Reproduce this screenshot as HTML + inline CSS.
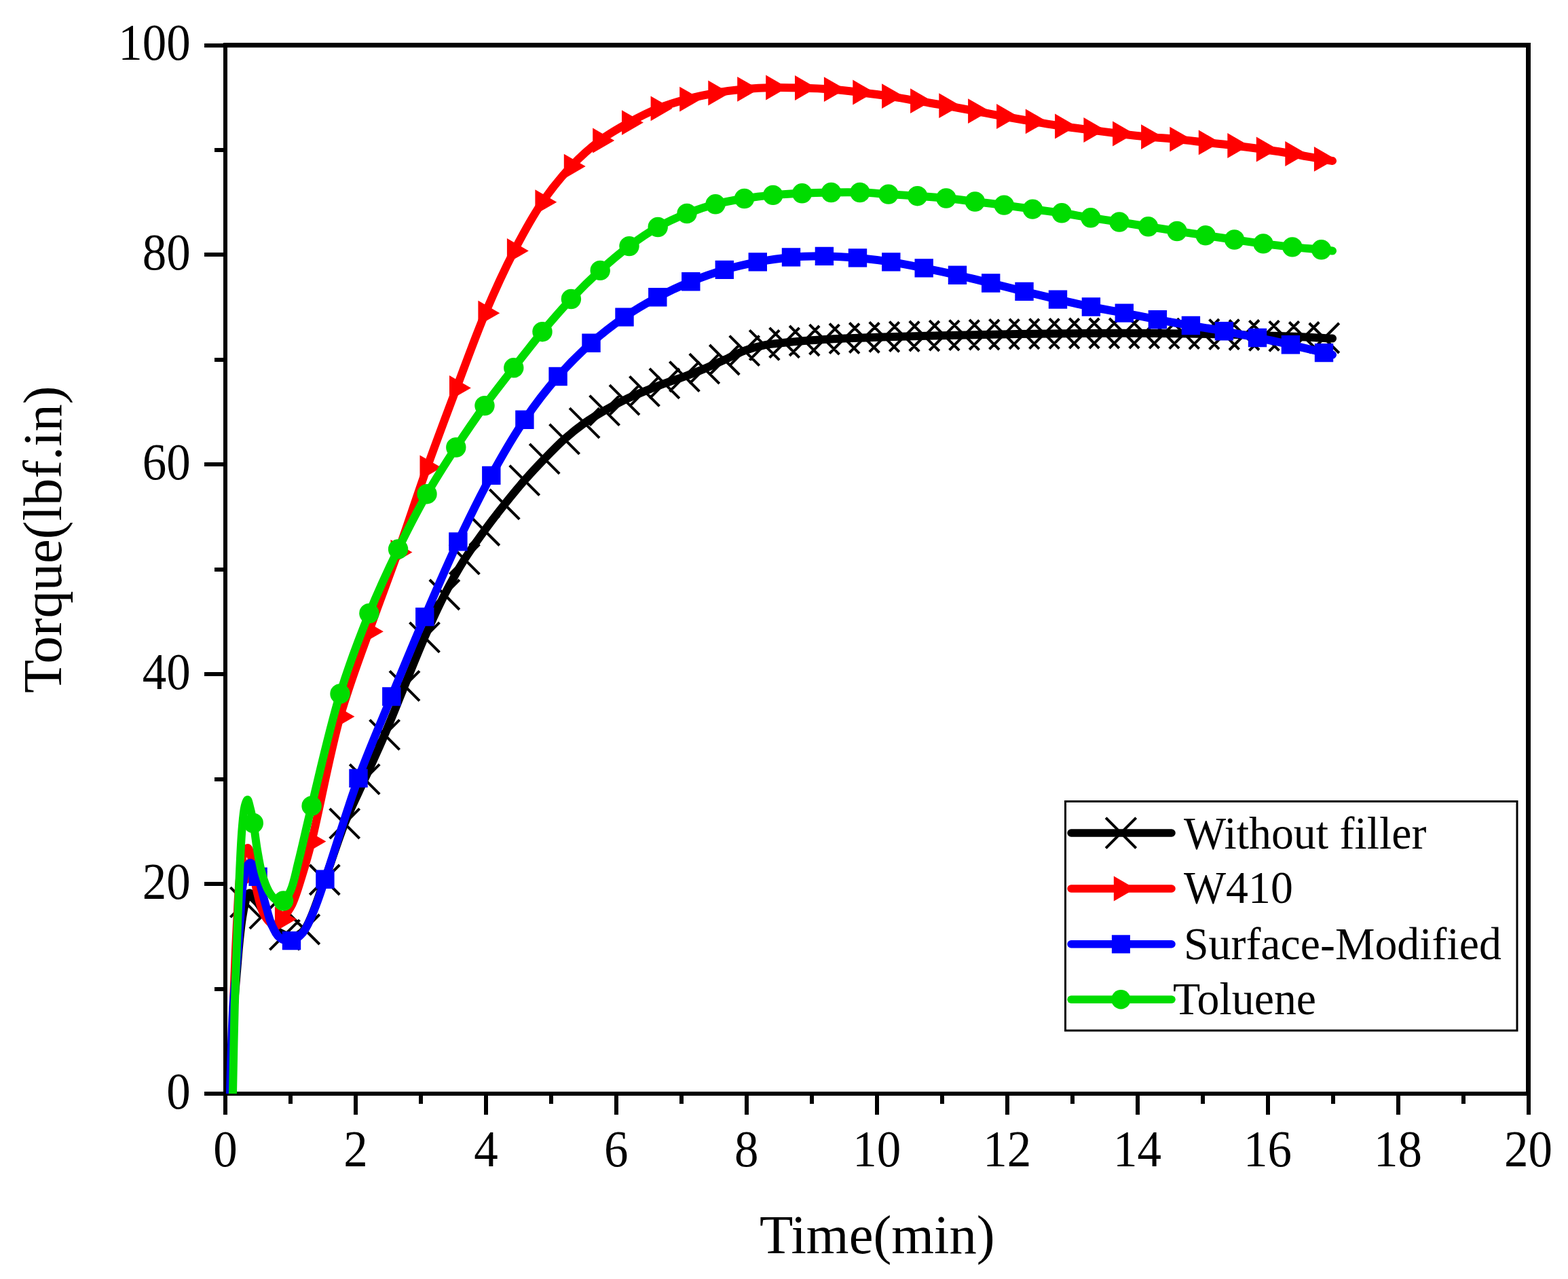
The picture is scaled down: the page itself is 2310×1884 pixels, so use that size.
<!DOCTYPE html>
<html><head><meta charset="utf-8"><title>Torque vs Time</title>
<style>html,body{margin:0;padding:0;background:#fff;overflow:hidden}svg{display:block}
text{font-family:"Liberation Serif","Times New Roman",serif;fill:#000;font-variant-ligatures:none;font-kerning:normal}</style></head><body>
<svg width="2310" height="1884" viewBox="0 0 2310 1884">
<rect width="2310" height="1884" fill="#fff"/>
<defs><clipPath id="c"><rect x="332" y="66.5" width="1919.5" height="1544.5"/></clipPath></defs>

<g fill="#000" shape-rendering="crispEdges">
<rect x="329" y="63" width="6" height="1551"/>
<rect x="329" y="1608" width="1926" height="6"/>
<rect x="329" y="63" width="1926" height="7"/>
<rect x="2248" y="63" width="7" height="1551"/>
<rect x="301" y="1608" width="28" height="6"/>
<rect x="316" y="1453.5" width="13" height="6"/>
<rect x="301" y="1299.1" width="28" height="6"/>
<rect x="316" y="1144.7" width="13" height="6"/>
<rect x="301" y="990.2" width="28" height="6"/>
<rect x="316" y="835.8" width="13" height="6"/>
<rect x="301" y="681.3" width="28" height="6"/>
<rect x="316" y="526.8" width="13" height="6"/>
<rect x="301" y="372.4" width="28" height="6"/>
<rect x="316" y="218" width="13" height="6"/>
<rect x="301" y="63.5" width="28" height="6"/>
<rect x="329" y="1614" width="6" height="28"/>
<rect x="425" y="1614" width="6" height="12"/>
<rect x="521" y="1614" width="6" height="28"/>
<rect x="616.9" y="1614" width="6" height="12"/>
<rect x="712.9" y="1614" width="6" height="28"/>
<rect x="808.9" y="1614" width="6" height="12"/>
<rect x="904.8" y="1614" width="6" height="28"/>
<rect x="1000.8" y="1614" width="6" height="12"/>
<rect x="1096.8" y="1614" width="6" height="28"/>
<rect x="1192.8" y="1614" width="6" height="12"/>
<rect x="1288.8" y="1614" width="6" height="28"/>
<rect x="1384.7" y="1614" width="6" height="12"/>
<rect x="1480.7" y="1614" width="6" height="28"/>
<rect x="1576.7" y="1614" width="6" height="12"/>
<rect x="1672.6" y="1614" width="6" height="28"/>
<rect x="1768.6" y="1614" width="6" height="12"/>
<rect x="1864.6" y="1614" width="6" height="28"/>
<rect x="1960.6" y="1614" width="6" height="12"/>
<rect x="2056.6" y="1614" width="6" height="28"/>
<rect x="2152.5" y="1614" width="6" height="12"/>
<rect x="2248.5" y="1614" width="6" height="28"/>
</g>
<g font-size="71">
<text transform="translate(280.7,1632.6) scale(1,1.07)" text-anchor="end">0</text>
<text transform="translate(280.7,1323.7) scale(1,1.07)" text-anchor="end">20</text>
<text transform="translate(280.7,1014.8) scale(1,1.07)" text-anchor="end">40</text>
<text transform="translate(280.7,705.9) scale(1,1.07)" text-anchor="end">60</text>
<text transform="translate(280.7,397) scale(1,1.07)" text-anchor="end">80</text>
<text transform="translate(280.7,88.1) scale(1,1.07)" text-anchor="end">100</text>
<text transform="translate(332,1718) scale(1,1.07)" text-anchor="middle">0</text>
<text transform="translate(524,1718) scale(1,1.07)" text-anchor="middle">2</text>
<text transform="translate(715.9,1718) scale(1,1.07)" text-anchor="middle">4</text>
<text transform="translate(907.8,1718) scale(1,1.07)" text-anchor="middle">6</text>
<text transform="translate(1099.8,1718) scale(1,1.07)" text-anchor="middle">8</text>
<text transform="translate(1291.8,1718) scale(1,1.07)" text-anchor="middle">10</text>
<text transform="translate(1483.7,1718) scale(1,1.07)" text-anchor="middle">12</text>
<text transform="translate(1675.6,1718) scale(1,1.07)" text-anchor="middle">14</text>
<text transform="translate(1867.6,1718) scale(1,1.07)" text-anchor="middle">16</text>
<text transform="translate(2059.6,1718) scale(1,1.07)" text-anchor="middle">18</text>
<text transform="translate(2251.5,1718) scale(1,1.07)" text-anchor="middle">20</text>
</g>
<text x="1119" y="1846.4" font-size="80.7">Time(min)</text>
<text transform="translate(90,1021) rotate(-90)" font-size="80.5">Torque(lbf.in)</text>
<g clip-path="url(#c)" fill="none" stroke-linecap="round" stroke-linejoin="round">
<path d="M339.5,1640C339.7,1630.3 339.7,1622.8 340,1611C340.4,1592.5 341.1,1562.7 342,1540C342.8,1519.2 343.7,1499.6 345,1480C346.2,1461.3 348.1,1441.9 349.5,1425C350.7,1410.6 351.7,1397.7 353,1385C354.2,1373.5 355.4,1362 357,1352C358.3,1343.7 359.9,1335.4 361.4,1329.2C362.4,1324.8 362.9,1320.3 364.5,1318C365.5,1316.6 366.8,1315.4 368,1315.5C369.6,1315.6 371,1317.7 373,1320C377.2,1324.9 384.4,1337.5 389.9,1345.8C395,1353.5 399.4,1362.6 405,1368C409.4,1372.3 414.3,1375.3 419.4,1377.1C424.3,1378.9 430.2,1380.2 435,1379C440,1377.7 444.2,1374.9 448.8,1369C458.7,1356.4 468.7,1321.2 478.3,1296C488.4,1269.4 497.3,1239 507.7,1213.2C517.1,1189.9 527.4,1169.7 537.2,1147.9C547,1126.1 557,1104.8 566.6,1082.3C576.6,1058.9 586.2,1034.2 596,1010.3C605.8,986.4 615.4,961.7 625.5,938.8C635.1,917.1 644.7,895.8 654.9,876C664.4,857.6 674.2,840.1 684.4,823.8C693.9,808.7 703.8,795.2 713.8,781.5C723.5,768.2 733.3,755.4 743.3,742.9C753,730.8 762.7,718.9 772.7,707.6C782.4,696.6 792.3,686 802.2,675.8C811.9,665.8 821.6,655.7 831.6,646.8C841.2,638.3 851.1,630.3 861.1,623.2C870.7,616.4 880.7,610.4 890.6,604.7C900.3,599.1 910.1,593.9 920,589.1C929.7,584.4 939.6,580.4 949.5,576.4C959.3,572.4 969.1,568.5 978.9,564.9C988.7,561.3 998.6,558.2 1008.4,554.6C1018.2,551 1028,547.2 1037.8,543.1C1047.7,539 1057.5,534.4 1067.3,530C1077.1,525.6 1086.7,520.2 1096.7,516.6C1106.4,513.1 1116.3,510.3 1126.2,508.3C1135.9,506.4 1145.8,505.8 1155.6,504.8C1165.4,503.7 1175.3,502.8 1185.1,502C1194.9,501.2 1204.7,500.7 1214.5,500.1C1224.3,499.5 1232.6,499.1 1244,498.6C1259.7,497.9 1278.6,497.2 1300,496.5C1328.5,495.6 1366.7,494.8 1400,494C1433.3,493.3 1466.7,492.5 1500,492C1533.3,491.5 1566.7,491.2 1600,491C1633.3,490.8 1666.7,490.8 1700,491C1733.3,491.2 1766.7,491.8 1800,492.5C1833.3,493.3 1870.5,494.3 1900,495.5C1923.4,496.4 1942,497.6 1963,498.6" stroke="#000" stroke-width="12"/>
<path d="M339.4,1307.2L383.4,1351.2M339.4,1351.2L383.4,1307.2M367.9,1323.8L411.9,1367.8M367.9,1367.8L411.9,1323.8M397.4,1355.1L441.4,1399.1M397.4,1399.1L441.4,1355.1M426.8,1347L470.8,1391M426.8,1391L470.8,1347M456.3,1274L500.3,1318M456.3,1318L500.3,1274M485.7,1191.2L529.7,1235.2M485.7,1235.2L529.7,1191.2M515.2,1125.9L559.2,1169.9M515.2,1169.9L559.2,1125.9M544.6,1060.3L588.6,1104.3M544.6,1104.3L588.6,1060.3M574,988.3L618,1032.3M574,1032.3L618,988.3M603.5,916.8L647.5,960.8M603.5,960.8L647.5,916.8M632.9,854L676.9,898M632.9,898L676.9,854M662.4,801.8L706.4,845.8M662.4,845.8L706.4,801.8M691.8,759.5L735.8,803.5M691.8,803.5L735.8,759.5M721.3,720.9L765.3,764.9M721.3,764.9L765.3,720.9M750.7,685.6L794.7,729.6M750.7,729.6L794.7,685.6M780.2,653.8L824.2,697.8M780.2,697.8L824.2,653.8M809.6,624.8L853.6,668.8M809.6,668.8L853.6,624.8M839.1,601.2L883.1,645.2M839.1,645.2L883.1,601.2M868.6,582.7L912.6,626.7M868.6,626.7L912.6,582.7M898,567.1L942,611.1M898,611.1L942,567.1M927.5,554.4L971.5,598.4M927.5,598.4L971.5,554.4M956.9,542.9L1000.9,586.9M956.9,586.9L1000.9,542.9M986.4,532.6L1030.4,576.6M986.4,576.6L1030.4,532.6M1015.8,521.1L1059.8,565.1M1015.8,565.1L1059.8,521.1M1045.3,508L1089.3,552M1045.3,552L1089.3,508M1074.7,494.6L1118.7,538.6M1074.7,538.6L1118.7,494.6M1104.2,486.3L1148.2,530.3M1104.2,530.3L1148.2,486.3M1133.6,482.8L1177.6,526.8M1133.6,526.8L1177.6,482.8M1163.1,480L1207.1,524M1163.1,524L1207.1,480M1192.5,478.1L1236.5,522.1M1192.5,522.1L1236.5,478.1M1222,476.6L1266,520.6M1222,520.6L1266,476.6M1251.4,475.5L1295.4,519.5M1251.4,519.5L1295.4,475.5M1280.8,474.4L1324.8,518.4M1280.8,518.4L1324.8,474.4M1310.3,473.7L1354.3,517.7M1310.3,517.7L1354.3,473.7M1339.8,473L1383.8,517M1339.8,517L1383.8,473M1369.2,472.2L1413.2,516.2M1369.2,516.2L1413.2,472.2M1398.6,471.6L1442.6,515.6M1398.6,515.6L1442.6,471.6M1428.1,471L1472.1,515M1428.1,515L1472.1,471M1457.5,470.4L1501.5,514.4M1457.5,514.4L1501.5,470.4M1487,469.9L1531,513.9M1487,513.9L1531,469.9M1516.5,469.6L1560.5,513.6M1516.5,513.6L1560.5,469.6M1545.9,469.3L1589.9,513.3M1545.9,513.3L1589.9,469.3M1575.3,469L1619.3,513M1575.3,513L1619.3,469M1604.8,469L1648.8,513M1604.8,513L1648.8,469M1634.2,469L1678.2,513M1634.2,513L1678.2,469M1663.7,469L1707.7,513M1663.7,513L1707.7,469M1693.1,469.2L1737.1,513.2M1693.1,513.2L1737.1,469.2M1722.6,469.7L1766.6,513.7M1722.6,513.7L1766.6,469.7M1752,470.1L1796,514.1M1752,514.1L1796,470.1M1781.5,470.6L1825.5,514.6M1781.5,514.6L1825.5,470.6M1811,471.5L1855,515.5M1811,515.5L1855,471.5M1840.4,472.4L1884.4,516.4M1840.4,516.4L1884.4,472.4M1869.8,473.3L1913.8,517.3M1869.8,517.3L1913.8,473.3M1899.3,474.5L1943.3,518.5M1899.3,518.5L1943.3,474.5M1928.8,476L1972.8,520M1928.8,520L1972.8,476" stroke="#000" stroke-width="4" stroke-linecap="butt"/>
<path d="M341.5,1640C341.7,1630.3 341.8,1624 342,1611C342.4,1584.5 342.8,1519.4 343.5,1490C343.9,1473.1 344.5,1464.1 345,1450C345.6,1434.3 346.3,1416.7 347,1400C347.8,1383.3 348.6,1366.7 349.5,1350C350.4,1333.3 351,1315.5 352.5,1300C353.8,1286.4 354.4,1271.1 357.5,1262C359.4,1256.3 362.9,1248.9 365,1249C366.8,1249.1 368.3,1255.5 369.5,1260C371.2,1266.4 371.6,1275.5 373,1284C374.6,1293.7 376.6,1305 379,1315C381.3,1324.6 383.5,1335.3 387,1343C389.8,1349 393.1,1354.8 397,1358C400,1360.4 404,1362.6 407,1362C410.2,1361.4 412.5,1357.5 415.5,1354C419.9,1348.8 425.6,1341.6 430,1333C435.8,1321.5 440.3,1305 445,1290C450,1273.9 453.5,1261.7 459.1,1239.5C469.8,1197.4 485.5,1110.7 501.1,1055.6C514.2,1009.4 529.2,971.2 543.6,930.2C557.5,890.5 572.1,853.1 586.1,813.5C600.6,772.7 614.5,729.7 629.1,688.8C643.3,649 658.1,609.9 672.6,571.4C686.7,534 700.3,496 715,461.2C728.6,429 742.8,397.9 757.5,369.5C770.9,343.8 784.2,319.3 799,297.7C812.4,278.2 826.6,260.7 841.4,245.1C855,230.8 869.2,218 883.9,207C897.7,196.7 912.2,188.6 926.6,180.6C940.6,172.9 954.8,165.6 969.2,159.8C983.2,154.2 997.6,149.9 1011.9,146.1C1025.9,142.4 1039.9,139.5 1054,137C1068.2,134.5 1082.7,132.6 1096.9,131.3C1110.9,130 1124.8,129.3 1138.9,129C1153.1,128.7 1167.4,129.1 1181.7,129.5C1196,129.9 1210.4,130.5 1224.6,131.6C1238.8,132.7 1252.8,134.3 1267,136C1281.2,137.7 1295.6,139.5 1309.8,141.6C1323.9,143.7 1337.8,146.4 1351.8,148.7C1365.8,151.1 1379.9,153.2 1394,155.7C1408.2,158.2 1422.6,161 1436.8,163.6C1450.9,166.2 1464.7,169 1478.8,171.5C1493,174.1 1507.2,176.5 1521.5,178.9C1535.9,181.3 1550.4,183.9 1564.8,186C1579,188.1 1593,189.7 1607.1,191.5C1621.3,193.3 1635.6,195.3 1649.8,197C1663.8,198.7 1677.8,200.3 1691.8,201.6C1705.8,203 1719.9,203.7 1734,205.1C1748.2,206.5 1762.3,208.3 1776.5,209.9C1790.7,211.5 1804.8,212.8 1819,214.5C1833.2,216.2 1847.3,218 1861.5,220C1875.7,222 1889.8,224.1 1904,226.5C1918.2,228.9 1935.7,232.5 1946.6,234.4C1953.3,235.6 1957.5,236.1 1963,237" stroke="#ff0000" stroke-width="12"/>
<path d="M394.3,1284L362.4,1265.6L362.4,1302.4ZM436.8,1354L404.9,1335.6L404.9,1372.4ZM480.4,1239.5L448.5,1221.1L448.5,1257.9ZM522.4,1055.6L490.5,1037.2L490.5,1074ZM564.9,930.2L533,911.8L533,948.6ZM607.4,813.5L575.5,795.1L575.5,831.9ZM650.4,688.8L618.5,670.4L618.5,707.2ZM693.9,571.4L662,553L662,589.8ZM736.3,461.2L704.4,442.8L704.4,479.6ZM778.8,369.5L746.9,351.1L746.9,387.9ZM820.3,297.7L788.4,279.3L788.4,316.1ZM862.7,245.1L830.8,226.7L830.8,263.5ZM905.2,207L873.2,188.6L873.2,225.4ZM947.9,180.6L916,162.2L916,199ZM990.5,159.8L958.6,141.4L958.6,178.2ZM1033.2,146.1L1001.2,127.7L1001.2,164.5ZM1075.3,137L1043.3,118.6L1043.3,155.4ZM1118.2,131.3L1086.2,112.9L1086.2,149.7ZM1160.2,129L1128.2,110.6L1128.2,147.4ZM1203,129.5L1171,111.1L1171,147.9ZM1245.9,131.6L1213.9,113.2L1213.9,150ZM1288.3,136L1256.3,117.6L1256.3,154.4ZM1331.1,141.6L1299.1,123.2L1299.1,160ZM1373.1,148.7L1341.1,130.3L1341.1,167.1ZM1415.3,155.7L1383.3,137.3L1383.3,174.1ZM1458.1,163.6L1426.1,145.2L1426.1,182ZM1500.1,171.5L1468.1,153.1L1468.1,189.9ZM1542.8,178.9L1510.8,160.5L1510.8,197.3ZM1586.1,186L1554.1,167.6L1554.1,204.4ZM1628.4,191.5L1596.4,173.1L1596.4,209.9ZM1671.1,197L1639.1,178.6L1639.1,215.4ZM1713.1,201.6L1681.1,183.2L1681.1,220ZM1755.3,205.1L1723.3,186.7L1723.3,223.5ZM1797.8,209.9L1765.8,191.5L1765.8,228.3ZM1840.3,214.5L1808.3,196.1L1808.3,232.9ZM1882.8,220L1850.8,201.6L1850.8,238.4ZM1925.3,226.5L1893.3,208.1L1893.3,244.9ZM1967.9,234.4L1935.9,216L1935.9,252.8Z" fill="#ff0000" stroke="none"/>
<path d="M338.6,1640C338.7,1630.3 338.7,1624.1 339,1611C339.7,1583.1 341.3,1515.2 343.5,1480C345,1456.1 347.3,1440 349,1420C350.7,1400 352.1,1379.1 353.5,1360C354.8,1342.6 355.4,1323.6 357,1310C358.1,1300.5 359.4,1292.6 361,1286C362.2,1281.3 363.1,1276.5 365,1274C366.2,1272.4 367.8,1270.8 369.2,1271C371.1,1271.2 373.3,1275.1 375,1278C377.1,1281.6 378.3,1285.7 380.1,1291.4C383.2,1300.9 386.9,1317.6 390.5,1330C393.9,1341.7 396.6,1354.7 401,1364C404.4,1371.2 407.8,1378.5 413,1382C417.6,1385.1 424.2,1386.7 429.5,1385.6C435.3,1384.4 441.1,1379.7 446,1374C452.8,1366.2 457.8,1352.3 463,1340C468.8,1326.3 472.3,1314.6 478.9,1295.3C490.9,1260.2 510.8,1193.1 528,1146.4C543.6,1103.9 560.4,1065.8 576.8,1026C593,986.6 609.2,947.1 625.8,908.6C642,871.1 658.1,833.4 674.9,797.9C690.8,764.2 706.9,731.2 723.8,700.4C739.6,671.5 755.7,643.5 772.9,618.3C788.6,595.2 805.1,573.9 822.1,554.5C837.9,536.5 854.2,520.2 871,505.3C886.9,491.2 903.3,478.5 920,467.1C936,456.1 952.3,446.6 968.8,437.8C984.9,429.2 1001.3,421.6 1017.8,414.8C1034.1,408.1 1050.7,402.2 1067.3,397.4C1083.5,392.7 1099.9,389 1116.3,385.9C1132.6,382.8 1149.1,380.3 1165.5,378.9C1181.8,377.5 1198.1,377.2 1214.4,377.4C1230.8,377.6 1247.1,378.5 1263.5,379.9C1279.9,381.3 1296.5,383.4 1312.8,385.9C1329,388.4 1345,391.7 1361.2,394.9C1377.6,398.1 1394.1,401.6 1410.5,405.3C1426.9,409 1443.3,413 1459.7,417C1476.1,421 1492.5,425.4 1509,429.4C1525.5,433.4 1542,437.3 1558.5,441.1C1574.8,444.9 1591.1,448.7 1607.4,452C1623.7,455.3 1640,458 1656.3,461.1C1672.7,464.2 1689,467.7 1705.4,470.8C1721.7,473.9 1738.1,476.7 1754.4,479.5C1770.7,482.3 1787.1,484.8 1803.4,487.8C1819.8,490.8 1836.2,494.2 1852.5,497.5C1868.8,500.8 1885.1,504.1 1901.4,507.8C1917.8,511.5 1939.5,517 1950.5,519.6C1956,520.9 1958.8,521.6 1963,522.6" stroke="#0000ff" stroke-width="12"/>
<path d="M366.4,1277.7h27.4v27.4h-27.4ZM415.8,1371.9h27.4v27.4h-27.4ZM465.2,1281.6h27.4v27.4h-27.4ZM514.3,1132.7h27.4v27.4h-27.4ZM563.1,1012.3h27.4v27.4h-27.4ZM612.1,894.9h27.4v27.4h-27.4ZM661.2,784.2h27.4v27.4h-27.4ZM710.1,686.7h27.4v27.4h-27.4ZM759.2,604.6h27.4v27.4h-27.4ZM808.4,540.8h27.4v27.4h-27.4ZM857.3,491.6h27.4v27.4h-27.4ZM906.3,453.4h27.4v27.4h-27.4ZM955.1,424.1h27.4v27.4h-27.4ZM1004.1,401.1h27.4v27.4h-27.4ZM1053.6,383.7h27.4v27.4h-27.4ZM1102.6,372.2h27.4v27.4h-27.4ZM1151.8,365.2h27.4v27.4h-27.4ZM1200.7,363.7h27.4v27.4h-27.4ZM1249.8,366.2h27.4v27.4h-27.4ZM1299.1,372.2h27.4v27.4h-27.4ZM1347.5,381.2h27.4v27.4h-27.4ZM1396.8,391.6h27.4v27.4h-27.4ZM1446,403.3h27.4v27.4h-27.4ZM1495.3,415.7h27.4v27.4h-27.4ZM1544.8,427.4h27.4v27.4h-27.4ZM1593.7,438.3h27.4v27.4h-27.4ZM1642.6,447.4h27.4v27.4h-27.4ZM1691.7,457.1h27.4v27.4h-27.4ZM1740.7,465.8h27.4v27.4h-27.4ZM1789.7,474.1h27.4v27.4h-27.4ZM1838.8,483.8h27.4v27.4h-27.4ZM1887.7,494.1h27.4v27.4h-27.4ZM1936.8,505.9h27.4v27.4h-27.4Z" fill="#0000ff" stroke="none"/>
<path d="M342.5,1640C342.7,1630.3 342.7,1624.1 343,1611C343.5,1583.1 344.7,1519.6 345.8,1480C346.7,1447.2 347.9,1420.2 349,1390C350.1,1359.3 351.2,1326.3 352.5,1297C353.7,1270.7 354.8,1242.1 356.5,1222C357.7,1208.4 358.5,1195.9 360.5,1188C361.6,1183.6 363.3,1178 364.6,1178C366,1178.1 367.2,1185.3 368.5,1190C370.2,1196.3 371.8,1203.9 373.3,1212.5C375.3,1223.8 376.8,1239.3 379,1252C381.1,1264 382.9,1276.3 386,1287C388.7,1296.4 392,1306.2 396,1313C399,1318.1 402.1,1322.7 406,1325C409.4,1327 414.2,1328.4 417.6,1327C421.8,1325.2 424.9,1318.7 428,1312C432.9,1301.5 435.7,1284.9 440,1268C445.8,1245.2 451.3,1218.9 459.1,1187.2C470.2,1141.8 485.6,1072.2 501,1022C514.2,978.9 528.9,940.5 543.9,903.5C557.5,869.9 571.9,839 586.6,808.9C600.4,780.6 614.3,753.4 629,727.7C642.8,703.6 657.3,681.1 671.8,659C685.7,637.8 699.6,617.4 714,597.6C728,578.4 742.5,560.1 756.8,541.8C770.8,523.8 784.7,505.8 799,488.7C812.9,472.1 827,455.8 841.4,440.5C855.4,425.7 869.7,411.6 884.2,398.4C898.2,385.7 912.5,373.5 927,362.6C940.8,352.3 954.8,342.6 969.2,334.5C983.1,326.7 997.6,320.2 1012,314.5C1025.9,309 1039.8,304.5 1054,300.8C1068,297.2 1082.4,294.7 1096.6,292.5C1110.7,290.3 1124.7,288.7 1138.8,287.4C1153,286.1 1167.3,285.4 1181.6,284.8C1195.9,284.1 1210.2,283.7 1224.5,283.5C1238.7,283.3 1252.8,283.1 1266.9,283.5C1280.9,283.9 1294.8,285.2 1308.9,286.1C1323.1,287 1337.4,287.7 1351.6,288.7C1365.7,289.7 1379.8,290.6 1393.9,292C1408.1,293.4 1422.2,295.3 1436.4,297C1450.6,298.7 1465,300.2 1479.2,302.1C1493.3,303.9 1507.3,306.2 1521.4,308.1C1535.6,310.1 1550,311.7 1564.2,313.8C1578.4,315.9 1592.6,318.6 1606.8,320.8C1620.9,323 1634.9,324.8 1649,327C1663.2,329.2 1677.4,331.5 1691.6,333.8C1705.7,336 1719.9,338.3 1734,340.5C1748.1,342.7 1762.1,344.7 1776.2,346.8C1790.3,348.9 1804.4,351 1818.5,353C1832.6,355 1846.8,357.1 1861,358.9C1875.3,360.7 1889.6,362.4 1903.9,363.9C1918.1,365.4 1935.7,366.7 1946.6,367.8C1953.4,368.5 1957.5,368.9 1963,369.5" stroke="#00dc00" stroke-width="12"/>
<g fill="#00dc00" stroke="none"><circle cx="373.3" cy="1212.5" r="14.7"/><circle cx="417.6" cy="1327" r="14.7"/><circle cx="459.1" cy="1187.2" r="14.7"/><circle cx="501" cy="1022" r="14.7"/><circle cx="543.9" cy="903.5" r="14.7"/><circle cx="586.6" cy="808.9" r="14.7"/><circle cx="629" cy="727.7" r="14.7"/><circle cx="671.8" cy="659" r="14.7"/><circle cx="714" cy="597.6" r="14.7"/><circle cx="756.8" cy="541.8" r="14.7"/><circle cx="799" cy="488.7" r="14.7"/><circle cx="841.4" cy="440.5" r="14.7"/><circle cx="884.2" cy="398.4" r="14.7"/><circle cx="927" cy="362.6" r="14.7"/><circle cx="969.2" cy="334.5" r="14.7"/><circle cx="1012" cy="314.5" r="14.7"/><circle cx="1054" cy="300.8" r="14.7"/><circle cx="1096.6" cy="292.5" r="14.7"/><circle cx="1138.8" cy="287.4" r="14.7"/><circle cx="1181.6" cy="284.8" r="14.7"/><circle cx="1224.5" cy="283.5" r="14.7"/><circle cx="1266.9" cy="283.5" r="14.7"/><circle cx="1308.9" cy="286.1" r="14.7"/><circle cx="1351.6" cy="288.7" r="14.7"/><circle cx="1393.9" cy="292" r="14.7"/><circle cx="1436.4" cy="297" r="14.7"/><circle cx="1479.2" cy="302.1" r="14.7"/><circle cx="1521.4" cy="308.1" r="14.7"/><circle cx="1564.2" cy="313.8" r="14.7"/><circle cx="1606.8" cy="320.8" r="14.7"/><circle cx="1649" cy="327" r="14.7"/><circle cx="1691.6" cy="333.8" r="14.7"/><circle cx="1734" cy="340.5" r="14.7"/><circle cx="1776.2" cy="346.8" r="14.7"/><circle cx="1818.5" cy="353" r="14.7"/><circle cx="1861" cy="358.9" r="14.7"/><circle cx="1903.9" cy="363.9" r="14.7"/><circle cx="1946.6" cy="367.8" r="14.7"/></g>
</g>
<rect x="1569.5" y="1180.5" width="665.5" height="337.5" fill="#fff" stroke="#000" stroke-width="3"/>
<g fill="none" stroke-linecap="round">
<path d="M1578,1227H1726" stroke="#000" stroke-width="11.5"/>
<path d="M1578,1309H1726" stroke="#ff0000" stroke-width="11.5"/>
<path d="M1578,1390.8H1726" stroke="#0000ff" stroke-width="11.5"/>
<path d="M1578,1472.2H1726" stroke="#00dc00" stroke-width="11.5"/>
<path d="M1629.1,1204.7L1673.7,1249.3M1629.1,1249.3L1673.7,1204.7" stroke="#000" stroke-width="4" stroke-linecap="butt"/>
<path d="M1672.7,1309L1640.8,1290.6L1640.8,1327.4Z" fill="#ff0000" stroke="none"/>
<path d="M1637.9,1377.3h27v27h-27Z" fill="#0000ff" stroke="none"/>
<circle cx="1651.4" cy="1472.2" r="14.2" fill="#00dc00" stroke="none"/>
</g>
<g font-size="68">
<text transform="translate(1744,1249.8) scale(0.968,1)">Without filler</text>
<text transform="translate(1744,1330.1) scale(0.968,1)">W410</text>
<text transform="translate(1744,1412.7) scale(0.968,1)">Surface-Modified</text>
<text transform="translate(1728,1494.1) scale(0.968,1)">Toluene</text>
</g>
</svg></body></html>
